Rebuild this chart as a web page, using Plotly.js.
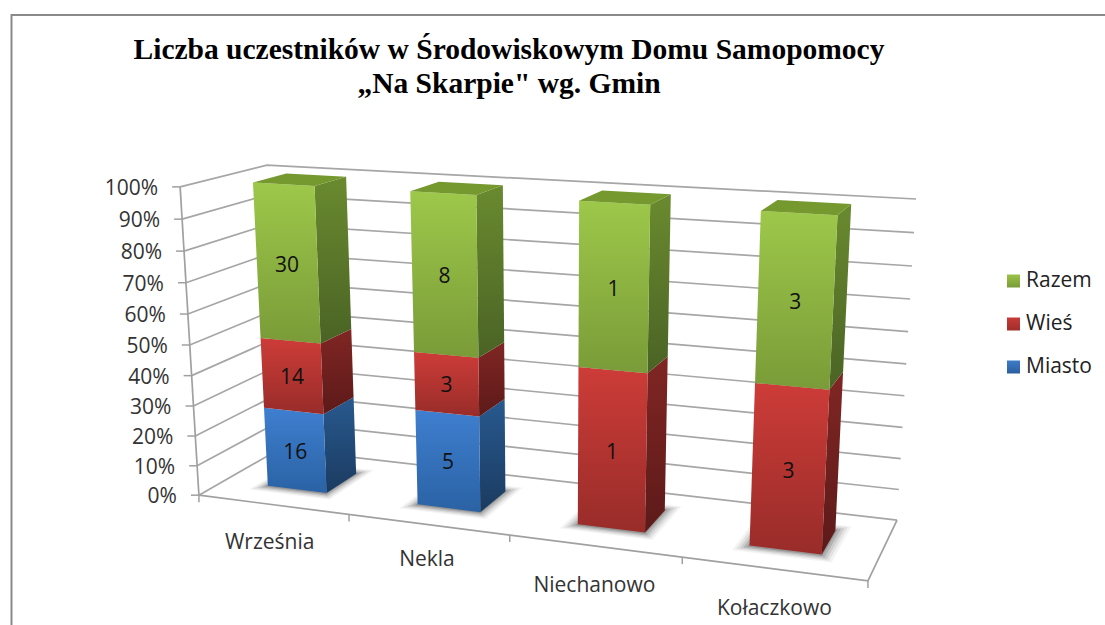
<!DOCTYPE html>
<html><head><meta charset="utf-8">
<script src="https://cdn.plot.ly/plotly-3.0.1.min.js"></script>
<style>html,body{margin:0;padding:0;background:#fff}#c{width:1105px;height:625px}</style>
</head><body><div id="c"></div>
<script>
const categories = ["Września","Nekla","Niechanowo","Kołaczkowo"];
const miasto = [16,5,0,0];
const wies = [14,3,1,3];
const razem = [30,8,1,3];
const percentTicks = ["0%","10%","20%","30%","40%","50%","60%","70%","80%","90%","100%"];
const titleText = "<span style=\"font-size:29.5px\">Liczba uczestników w Środowiskowym Domu Samopomocy</span><br><span style=\"font-size:29.5px\">„Na Skarpie\" wg. Gmin</span>";

// Perspective box fitted to the plot walls: [u,v,w] -> [px,py]
const anchors = [
 [0,0,0,199,495],[0,1,0,180,187],[0,1,1,267,165],[1,1,1,916,199],
 [1,0,1,897,520],[1,0,0,868,581],[0,0,1,280,449]];
function solve(A,b){const n=b.length;const M=A.map((r,i)=>[...r,b[i]]);
 for(let i=0;i<n;i++){let p=i;for(let k=i+1;k<n;k++)if(Math.abs(M[k][i])>Math.abs(M[p][i]))p=k;
  [M[i],M[p]]=[M[p],M[i]];
  for(let k=0;k<n;k++){if(k===i)continue;const f=M[k][i]/M[i][i];for(let j=i;j<=n;j++)M[k][j]-=f*M[i][j];}}
 return M.map((r,i)=>r[n]/r[i]);}
const rows=[],rhs=[];
anchors.forEach(([u,v,w,X,Y])=>{
 rows.push([u,v,w,1,0,0,0,0,-X*u,-X*v,-X*w]);rhs.push(X);
 rows.push([0,0,0,0,u,v,w,1,-Y*u,-Y*v,-Y*w]);rhs.push(Y);});
const ATA=Array.from({length:11},(_,i)=>Array.from({length:11},(_,j)=>rows.reduce((s,r)=>s+r[i]*r[j],0)));
const ATb=Array.from({length:11},(_,i)=>rows.reduce((s,r,k)=>s+r[i]*rhs[k],0));
const h=solve(ATA,ATb);
function P(u,v,w){const d=h[8]*u+h[9]*v+h[10]*w+1;
 return [(h[0]*u+h[1]*v+h[2]*w+h[3])/d,(h[4]*u+h[5]*v+h[6]*w+h[7])/d];}

const traces=[];
function line(pts,color,width){traces.push({type:'scatter',mode:'lines',x:pts.map(p=>p[0]),y:pts.map(p=>p[1]),
 line:{color:color,width:width},hoverinfo:'skip',showlegend:false,cliponaxis:false});}
function poly(pts,grad,solid,opacity){const t={type:'scatter',mode:'lines',x:[...pts.map(p=>p[0]),pts[0][0]],y:[...pts.map(p=>p[1]),pts[0][1]],
 fill:'toself',line:{width:0},hoverinfo:'skip',showlegend:false};
 if(grad){const ys=pts.map(p=>p[1]);t.fillgradient={type:'vertical',start:Math.min(...ys),stop:Math.max(...ys),colorscale:[[0,grad[0]],[1,grad[1]]]};t.fillcolor=grad[0];}
 else t.fillcolor=solid; if(opacity!==undefined)t.opacity=opacity; traces.push(t);}
function text(x,y,labels,pos,size,color){traces.push({type:'scatter',mode:'text',x:x,y:y,text:labels,textposition:pos,
 textfont:{family:'Open Sans, sans-serif',size:size,color:color},hoverinfo:'skip',showlegend:false,cliponaxis:false});}

// outer frame
line([[11.5,625],[11.5,15],[1105,15]],'#8a8a8a',2);

// walls and gridlines
const gridC='#a6a6a6',axisC='#a0a0a0';
percentTicks.forEach((_,i)=>{const v=i/10;
 line([P(0,v,0),P(0,v,1),P(1,v,1)],gridC,1.7);
 const a=P(0,v,0);line([[a[0]-8,a[1]],a],axisC,1.5);});
line([P(0,0,0),P(0,1,0)],axisC,1.7);
line([P(0,0,0),P(1,0,0),P(1,0,1)],axisC,1.7);
for(let i=0;i<=categories.length;i++){const a=P(i/categories.length,0,0);line([a,[a[0],a[1]+7]],axisC,1.5);}

// bars
const series=[
 {name:'Miasto',values:miasto,front:['#3f7fd0','#2a62a4'],side:['#28598f','#1b3b60'],legend:['#3d7cc9','#2b5f9e']},
 {name:'Wieś',values:wies,front:['#cd3c38','#982c29'],side:['#802624','#5c1a19'],legend:['#c93a37','#a02e2b']},
 {name:'Razem',values:razem,front:['#9dc84a','#7a9b38'],side:['#6a8a2f','#4a6325'],legend:['#9ac347','#7a9b38']}];
const bw=0.4,u0=i=>(i+(1-bw)/2)/categories.length,u1=i=>(i+(1+bw)/2)/categories.length,w0=0.3,w1=0.7;
const labX=[],labY=[],labT=[];
categories.forEach((c,i)=>{
 const total=series.reduce((s,a)=>s+a.values[i],0);
 // soft contact shadow on the floor
 [[.018,.10,.06],[.014,.08,.09],[.010,.06,.12],[.006,.04,.18],[.002,.02,.25]].forEach(([du,dw,op])=>{
  poly([P(u0(i)-du,0,w0-dw),P(u1(i)+du,0,w0-dw),P(u1(i)+du,0,w1+dw),P(u0(i)-du,0,w1+dw)],null,'#404040',op);});
 let base=0;
 series.forEach(s=>{const val=s.values[i];if(!val)return;
  const a=base/total,b=(base+val)/total;base+=val;
  poly([P(u1(i),a,w0),P(u1(i),b,w0),P(u1(i),b,w1),P(u1(i),a,w1)],s.side);
  poly([P(u0(i),a,w0),P(u1(i),a,w0),P(u1(i),b,w0),P(u0(i),b,w0)],s.front);
  const m=P((u0(i)+u1(i))/2,(a+b)/2,w0);labX.push(m[0]);labY.push(m[1]+3);labT.push(String(val));
  if(base===total)poly([P(u0(i),1,w0),P(u1(i),1,w0),P(u1(i),1,w1),P(u0(i),1,w1)],null,'#75982f');
 });
});
text(labX,labY,labT,'middle center',21,'#111111');

// axis labels
const tp=percentTicks.map((_,i)=>P(0,i/10,0));
text(tp.map(p=>p[0]-22),tp.map(p=>p[1]+3),percentTicks,'middle left',21,'#333333');
const nudgeX=[-3,-1,0,1],nudgeY=[39,36,41,41];
const cp=categories.map((_,i)=>P((i+.5)/categories.length,0,0));
text(cp.map((p,i)=>p[0]+nudgeX[i]),cp.map((p,i)=>p[1]+nudgeY[i]),categories,'middle center',21,'#333333');

// legend
const legY=[281,324,367];
[...series].reverse().forEach((s,k)=>{
 traces.push({type:'scatter',mode:'markers',x:[1013.5],y:[legY[k]],
  marker:{symbol:'square',size:13,color:s.legend[0],gradient:{type:'vertical',color:s.legend[1]},line:{width:0}},
  hoverinfo:'skip',showlegend:false,cliponaxis:false});
 text([1026],[legY[k]+1],[s.name],'middle right',21,'#222222');});

Plotly.newPlot('c',traces,{
 width:1105,height:625,margin:{l:0,r:0,t:0,b:0,pad:0},
 paper_bgcolor:'#ffffff',plot_bgcolor:'#ffffff',showlegend:false,
 title:{text:titleText,x:509/1105,xanchor:'center',xref:'paper',y:1-59/625,yanchor:'top',
  font:{family:'Liberation Serif, serif',size:26,color:'#000000',weight:'bold'}},
 xaxis:{range:[0,1105],visible:false,fixedrange:true},
 yaxis:{range:[625,0],visible:false,fixedrange:true}
},{displayModeBar:false,staticPlot:true});
</script></body></html>
